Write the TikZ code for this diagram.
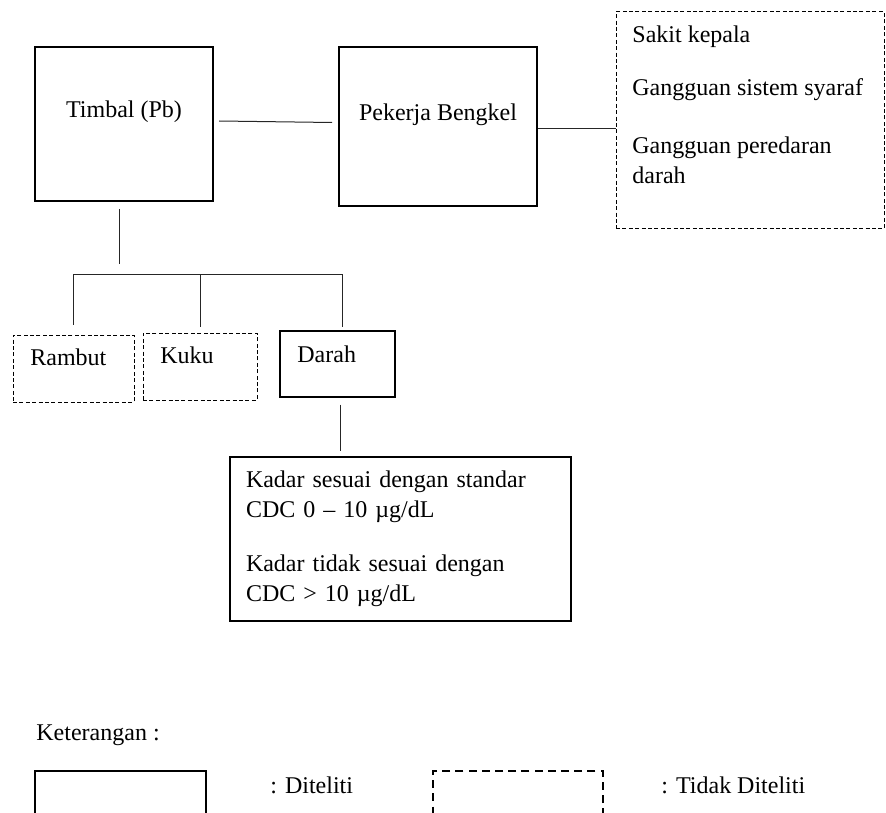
\documentclass[tikz,border=0pt]{standalone}
\usepackage{fontspec}
\setmainfont{Liberation Serif}
\usepackage{tikz}
\usetikzlibrary{positioning, calc}

\begin{document}
\begin{tikzpicture}[
            x=0.5pt, y=-0.5pt,
            font=\fontsize{12}{15}\selectfont,
            mainbox/.style={draw, line width=1pt, inner sep=0pt},
            subbox/.style={draw, line width=0.65pt, inner sep=0pt},
            dashbox/.style={draw, line width=0.5pt, dash pattern=on 2pt off 1.2pt, inner sep=0pt},
            legsolid/.style={draw, line width=1pt, inner sep=0pt},
            legdash/.style={draw, line width=1pt, dash pattern=on 4pt off 2.6pt, inner sep=0pt},
            txt/.style={inner sep=0pt, anchor=west, align=left},
            link/.style={line width=0.5pt, black!85}
        ]
            \clip (0,0) rectangle (886,812);

            % top row
            \node[mainbox, minimum width=89pt, minimum height=77pt] (timbal) at (124,124) {};
            \node[inner sep=0pt] (timbaltxt) at (124,112) {Timbal (Pb)};

            \node[mainbox, minimum width=99pt, minimum height=79.5pt] (pekerja) at (438,126.5) {};
            \node[inner sep=0pt] (pekerjatxt) at (438,115) {Pekerja Bengkel};

            \node[dashbox, minimum width=134pt, minimum height=108.5pt] (efek) at (750,120.5) {};
            \node[txt] (sakit) at (632,37) {Sakit kepala};
            \node[txt] (syaraf) at (632,90) {Gangguan sistem syaraf};
            \node[txt] (darahgg) at (632,160) {Gangguan peredaran\\darah};

            % sampel
            \node[dashbox, minimum width=60.5pt, minimum height=33.5pt] (rambut) at (73.5,368.5) {};
            \node[txt] (rambuttxt) at (30,357) {Rambut};

            \node[dashbox, minimum width=57pt, minimum height=33.5pt] (kuku) at (200,366.5) {};
            \node[txt] (kukutxt) at (160,355) {Kuku};

            \node[subbox, minimum width=57.5pt, minimum height=33pt] (darah) at (337.5,364) {};
            \node[txt] (darahtxt) at (297,354) {Darah};

            \node[subbox, minimum width=170.5pt, minimum height=82pt, text width=154.5pt,
                  align=left, inner xsep=8pt] (kadar) at (400.5,539)
                {Kadar sesuai dengan standar\\
                 CDC 0 -- 10 µg/dL\\[12pt]
                 Kadar tidak sesuai dengan\\
                 CDC > 10 µg/dL};

            % garis
            \draw[link] ([xshift=2.5pt,yshift=1.5pt]timbal.east) -- ([xshift=-3pt,yshift=2pt]pekerja.west);
            \draw[link] ([yshift=-1.2pt]pekerja.east) -- ([yshift=-1.2pt]pekerja.east -| efek.west);

            \coordinate (busL) at (73,274);
            \coordinate (busR) at (342,274);
            \draw[link] ([xshift=-2.5pt,yshift=-3.5pt]timbal.south) -- ++(0,55);
            \draw[link] (busL) -- (busR);
            \draw[link] (busL) -- ([yshift=5pt]rambut.north -| busL);
            \draw[link] (busL -| kuku.north) -- ([yshift=3pt]kuku.north);
            \draw[link] (busR) -- ([yshift=1.5pt]darah.north -| busR);
            \coordinate (darahbawah) at ([xshift=1.25pt,yshift=-3.5pt]darah.south);
            \draw[link] (darahbawah) -- ([yshift=2.5pt]darahbawah |- kadar.north);

            % keterangan
            \node[txt] (ket) at (36,735) {Keterangan :};
            \node[legsolid, minimum width=85.5pt, minimum height=30pt] (legA) at (120.5,801) {};
            \node[txt] (legAtxt) at (270,785) {: Diteliti};
            \node[legdash, minimum width=85pt, minimum height=30pt] (legB) at (518,801) {};
            \node[txt] (legBtxt) at (661,785) {: Tidak Diteliti};
        \end{tikzpicture}
\end{document}
